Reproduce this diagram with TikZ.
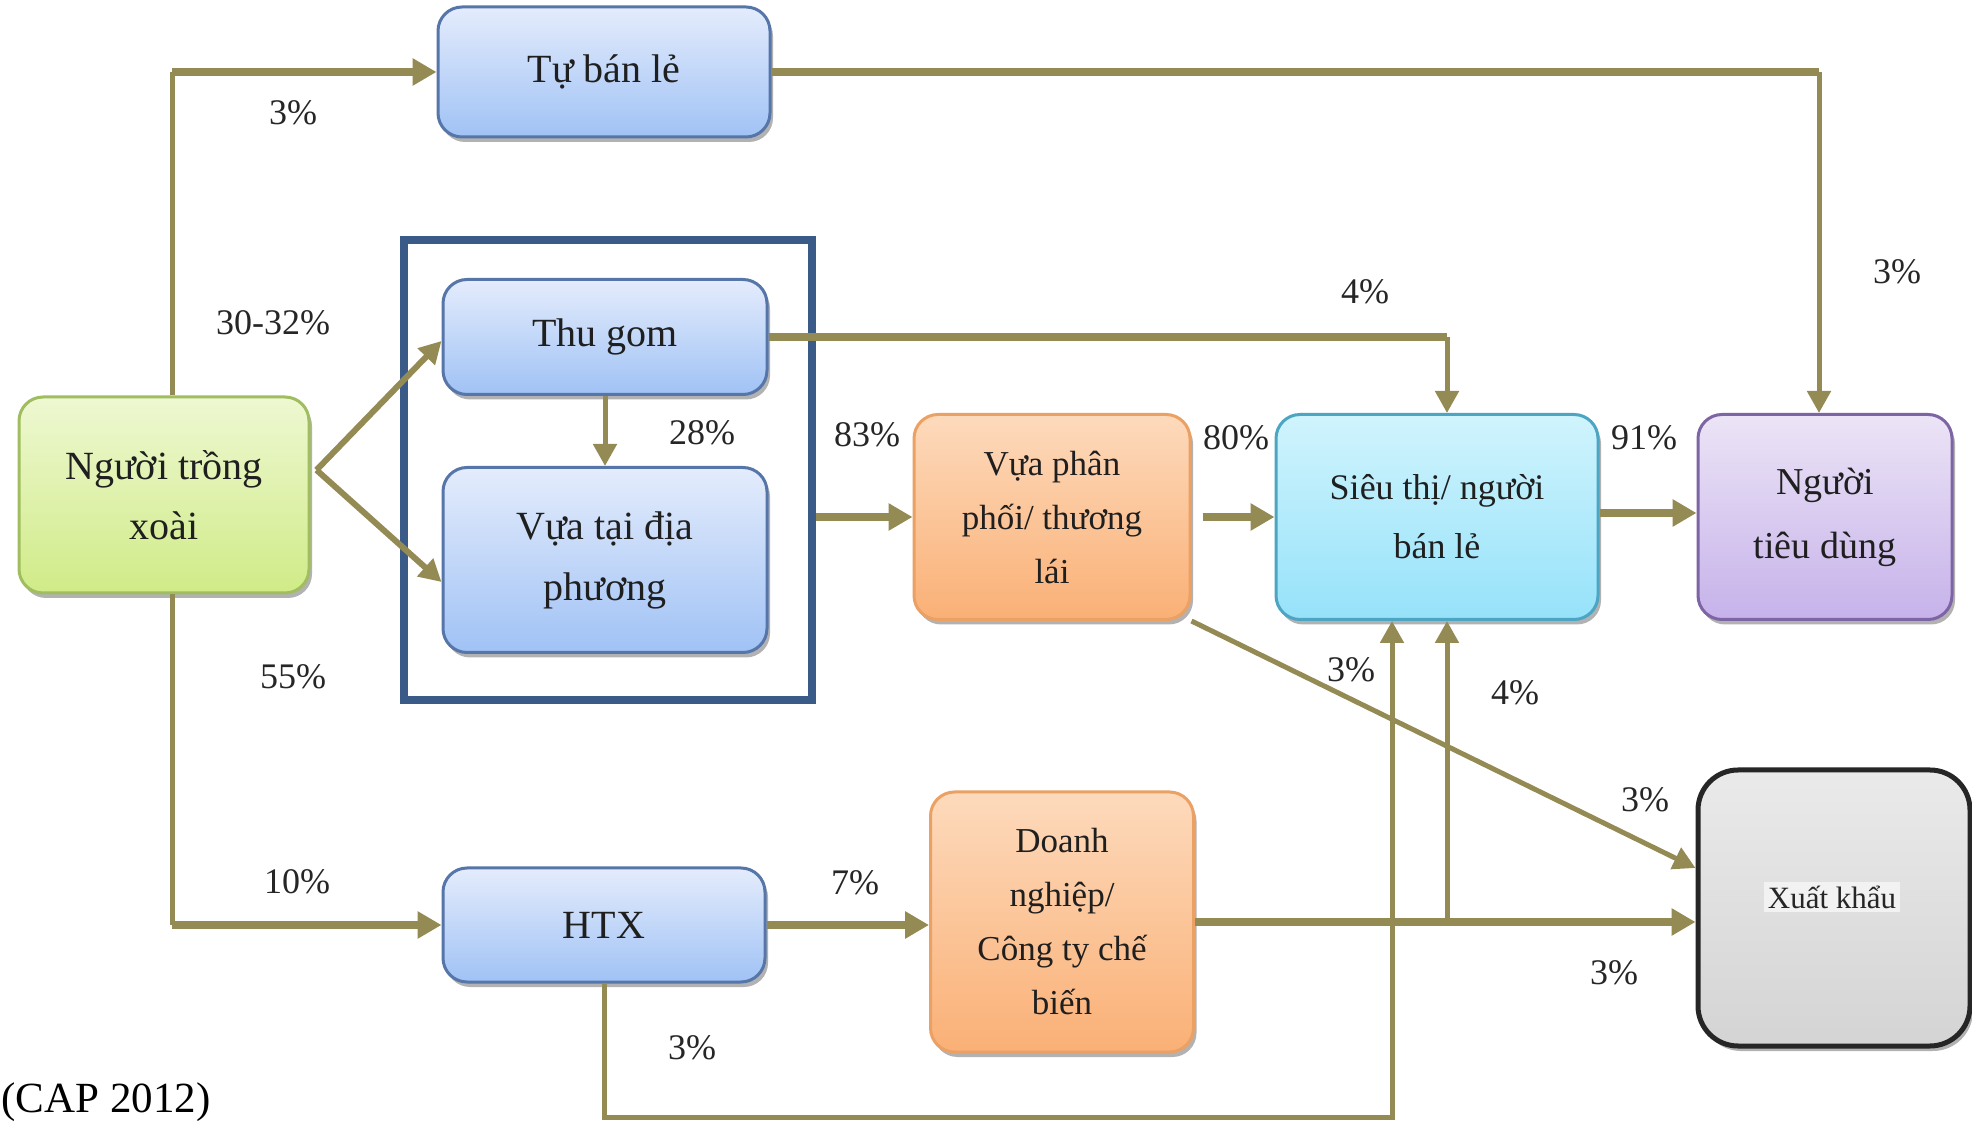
\documentclass[tikz,border=0pt]{standalone}
\usepackage{fontspec}
\setmainfont{Liberation Serif}
\usetikzlibrary{arrows.meta,shadows,calc}
\definecolor{olv}{RGB}{148,138,84}
\definecolor{bluT}{RGB}{228,236,252}
\definecolor{bluB}{RGB}{160,194,245}
\definecolor{bluD}{RGB}{86,118,170}
\definecolor{grnT}{RGB}{238,248,210}
\definecolor{grnB}{RGB}{208,235,135}
\definecolor{grnD}{RGB}{160,190,95}
\definecolor{orgT}{RGB}{253,218,188}
\definecolor{orgB}{RGB}{250,176,118}
\definecolor{orgD}{RGB}{235,160,100}
\definecolor{cyaT}{RGB}{208,244,253}
\definecolor{cyaB}{RGB}{150,226,250}
\definecolor{cyaD}{RGB}{75,165,195}
\definecolor{purT}{RGB}{236,228,246}
\definecolor{purB}{RGB}{198,178,234}
\definecolor{purD}{RGB}{125,100,165}
\definecolor{gryT}{RGB}{234,234,234}
\definecolor{gryB}{RGB}{212,212,212}
\definecolor{frm}{RGB}{58,90,136}
\tikzset{
  box/.style={draw, rounded corners=12pt, line width=1.5pt, align=center, inner sep=2pt, text=black!88,
    drop shadow={shadow xshift=1.5pt, shadow yshift=-2.5pt, opacity=0.3, fill=black}},
  blu/.style={box, draw=bluD, top color=bluT, bottom color=bluB, font=\fontsize{20}{30.5}\selectfont},
  grn/.style={box, draw=grnD, top color=grnT, bottom color=grnB, font=\fontsize{20}{30}\selectfont},
  org/.style={box, draw=orgD, top color=orgT, bottom color=orgB, font=\fontsize{17.5}{27}\selectfont},
  cya/.style={box, draw=cyaD, top color=cyaT, bottom color=cyaB, font=\fontsize{18}{29.5}\selectfont},
  pur/.style={box, draw=purD, top color=purT, bottom color=purB, font=\fontsize{19}{32}\selectfont},
  gry/.style={box, draw=black!85, line width=2.5pt, rounded corners=20pt, top color=gryT, bottom color=gryB, font=\fontsize{15.5}{18}\selectfont},
  framebox/.style={draw=frm, line width=4pt, minimum width=204pt, minimum height=230pt, inner sep=0pt},
  lab/.style={inner sep=0pt, text=black!85, font=\fontsize{18}{20}\selectfont},
  fl/.style={draw=olv, line width=4pt},
  tl/.style={draw=olv, line width=2.5pt},
  ml/.style={draw=olv, line width=3pt},
  tipL/.style={-{Triangle[length=12pt,width=13pt]}},
  tipS/.style={-{Triangle[length=11pt,width=11.5pt]}},
}
\begin{document}
\begin{tikzpicture}[x=0.5pt,y=-0.5pt]
\useasboundingbox (0,0) rectangle (1972,1122);
\fill[white] (0,0) rectangle (1972,1122);

\node[framebox] (frame) at (608,470) {};

\node[blu, minimum width=166pt, minimum height=65pt] (tbl) at (604,72) {Tự bán lẻ};
\node[blu, minimum width=162pt, minimum height=57.5pt] (thugom) at (605,337) {Thu gom};
\node[blu, minimum width=162pt, minimum height=92.5pt] (vuatai) at (605,560) {Vựa tại địa\\phương};
\node[grn, minimum width=145pt, minimum height=98pt] (ntx) at (164,495) {Người trồng\\xoài};
\node[org, minimum width=138pt, minimum height=102.5pt] (vuapp) at (1052,517) {Vựa phân\\phối/ thương\\lái};
\node[cya, minimum width=161pt, minimum height=102.5pt] (sieuthi) at (1437,517) {Siêu thị/ người\\bán lẻ};
\node[pur, minimum width=127pt, minimum height=102.5pt] (ntd) at (1825,517) {Người\\tiêu dùng};
\node[blu, minimum width=161pt, minimum height=57pt] (htx) at (604,925) {HTX};
\node[org, minimum width=131.5pt, minimum height=130pt] (dn) at (1062,922) {Doanh\\nghiệp/\\Công ty chế\\biến};
\node[gry, minimum width=136pt, minimum height=138pt] (xk) at (1834,908) {};
\node[inner sep=2pt, fill=gryT!60!white, font=\fontsize{15.5}{18}\selectfont, text=black!85] (xkt) at (1832,897) {Xuất khẩu};

% connectors
\coordinate (ntxN) at ([xshift=4pt]ntx.north);
\coordinate (ntxS) at ([xshift=4pt]ntx.south);
\coordinate (ntdN) at ([xshift=-3pt]ntd.north);
\coordinate (stN) at ([xshift=5pt]sieuthi.north);
\coordinate (stS1) at ([xshift=-22.5pt]sieuthi.south);
\coordinate (stS2) at ([xshift=5pt]sieuthi.south);
\coordinate (ntxE) at ([xshift=3pt,yshift=12.5pt]ntx.east);
\coordinate (bot) at (0,1117);

\draw[tl] (ntxN) -- (ntxN |- tbl.west);
\draw[fl,tipL] (ntxN |- tbl.west) -- (tbl.west);
\draw[fl] (tbl.east) -- (tbl.east -| ntdN);
\draw[tl,tipS] (tbl.east -| ntdN) -- (ntdN);

\draw[ml,tipS] (ntxE) -- ([yshift=-2pt]thugom.west);
\draw[ml,tipS] (ntxE) -- ([yshift=-11pt]vuatai.west);
\draw[tl,tipS] (thugom.south) -- (vuatai.north);

\draw[fl] (thugom.east) -- (thugom.east -| stN);
\draw[tl,tipS] (thugom.east -| stN) -- (stN);

\draw[fl,tipL] (frame.east |- vuapp.west) -- (vuapp.west);
\draw[fl,tipL,shorten <=5.5pt] (vuapp.east) -- (sieuthi.west);
\draw[fl,tipL] ([yshift=2pt]sieuthi.east) -- ([yshift=2pt]ntd.west);

\draw[tl] (ntxS) -- (ntxS |- htx.west);
\draw[fl,tipL] (ntxS |- htx.west) -- (htx.west);
\draw[fl,tipL] (htx.east) -- (htx.east -| dn.west);
\draw[tl,tipS] (htx.south) -- (htx.south |- bot) -- (stS1 |- bot) -- (stS1);
\draw[fl,tipL] (dn.east) -- (dn.east -| xk.west);
\draw[tl,tipS] (stS2 |- dn.east) -- (stS2);
\draw[tl,tipS] (vuapp.south east) -- ([yshift=20pt]xk.west);

% labels
\node[lab] (l1) at (293,113) {3\%};
\node[lab] (l2) at (1897,272) {3\%};
\node[lab] (l3) at (273,323) {30-32\%};
\node[lab] (l4) at (1365,292) {4\%};
\node[lab] (l5) at (702,433) {28\%};
\node[lab] (l6) at (867,435) {83\%};
\node[lab] (l7) at (1236,438) {80\%};
\node[lab] (l8) at (1644,438) {91\%};
\node[lab] (l9) at (293,677) {55\%};
\node[lab] (l10) at (1351,670) {3\%};
\node[lab] (l11) at (1515,693) {4\%};
\node[lab] (l12) at (1645,800) {3\%};
\node[lab] (l13) at (297,882) {10\%};
\node[lab] (l14) at (855,883) {7\%};
\node[lab] (l15) at (1614,973) {3\%};
\node[lab] (l16) at (692,1048) {3\%};

\node[anchor=base west, inner sep=0pt, font=\fontsize{21.5}{24}\selectfont] (cap) at (1,1112) {(CAP 2012)};
\end{tikzpicture}
\end{document}
